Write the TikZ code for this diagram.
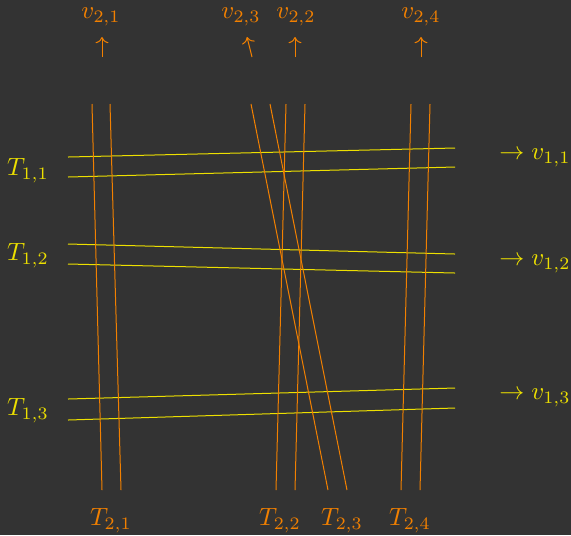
\documentclass[tikz,border=0pt]{standalone}
\usepackage{xcolor}
\definecolor{darkbg}{HTML}{333333}
\definecolor{rowyellow}{HTML}{EDE000}
\definecolor{colorange}{HTML}{F28000}
\usepackage{tikz}
\usetikzlibrary{arrows.meta}

\begin{document}
\begin{tikzpicture}[x=0.4pt,y=-0.4pt,
  rowline/.style={draw=rowyellow,line width=0.4pt},
  colline/.style={draw=colorange,line width=0.4pt},
  rowlabel/.style={text=rowyellow,inner sep=0pt},
  collabel/.style={text=colorange,inner sep=0pt},
  uparrow/.style={->,draw=colorange,line width=0.4pt}
]
\fill[darkbg] (0,0) rectangle (571,535);
\useasboundingbox (0,0) rectangle (571,535);

% first set: nearly horizontal pairs
\draw[rowline] (68,157) -- (455,148);
\draw[rowline] (68,177) -- (455,167);
\draw[rowline] (68,244) -- (455,254);
\draw[rowline] (68,264) -- (455,273);
\draw[rowline] (68,399) -- (455,388);
\draw[rowline] (68,420) -- (455,408);

% second set: nearly vertical pairs
\draw[colline] (92,104) -- (102,490);
\draw[colline] (110,104) -- (121,490);
\draw[colline] (286,104) -- (276,490);
\draw[colline] (305,104) -- (295,490);
\draw[colline] (251,104) -- (328,490);
\draw[colline] (270,104) -- (347,490);
\draw[colline] (411,104) -- (401,490);
\draw[colline] (430,104) -- (420,490);

% labels of the first set
\node[rowlabel] (t11) at (28,171) {$T_{1,1}$};
\node[rowlabel] (t12) at (28,256) {$T_{1,2}$};
\node[rowlabel] (t13) at (28,411) {$T_{1,3}$};
\node[rowlabel] (v11) at (535,158) {$\to v_{1,1}$};
\node[rowlabel] (v12) at (535,264) {$\to v_{1,2}$};
\node[rowlabel] (v13) at (535,398) {$\to v_{1,3}$};

% labels of the second set
\node[collabel] (t21) at (111,521) {$T_{2,1}$};
\node[collabel] (t22) at (280,521) {$T_{2,2}$};
\node[collabel] (t23) at (342,521) {$T_{2,3}$};
\node[collabel] (t24) at (410,521) {$T_{2,4}$};
\node[collabel] (v21) at (101,17) {$v_{2,1}$};
\node[collabel] (v23) at (241,17) {$v_{2,3}$};
\node[collabel] (v22) at (296,17) {$v_{2,2}$};
\node[collabel] (v24) at (421,17) {$v_{2,4}$};

\coordinate (a21) at (102,57);
\coordinate (b21) at (102,37);
\coordinate (a23) at (252,57);
\coordinate (b23) at (247,37);
\coordinate (a22) at (295,57);
\coordinate (b22) at (295,37);
\coordinate (a24) at (421,57);
\coordinate (b24) at (421,37);
\draw[uparrow] (a21) -- (b21);
\draw[uparrow] (a23) -- (b23);
\draw[uparrow] (a22) -- (b22);
\draw[uparrow] (a24) -- (b24);
\end{tikzpicture}
\end{document}
